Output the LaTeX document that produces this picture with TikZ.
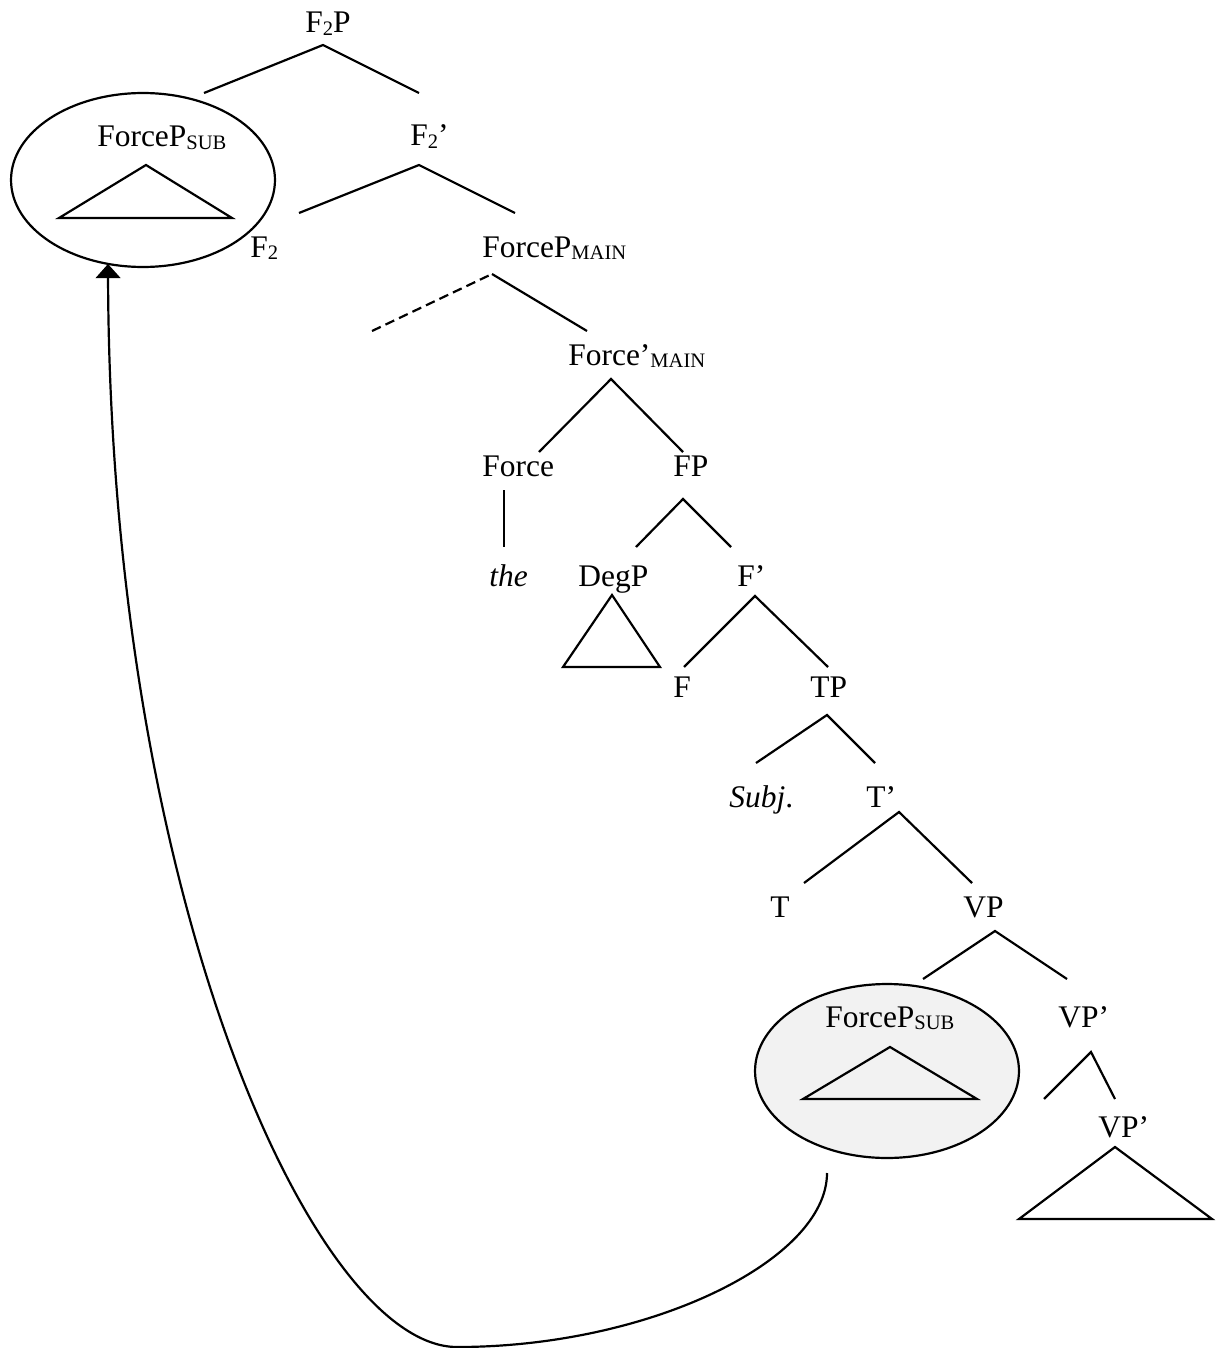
\documentclass[tikz,border=0pt]{standalone}
\usepackage{fontspec}
\setmainfont{Liberation Serif}
\usetikzlibrary{shapes.geometric,arrows.meta}
\newcommand\lsub[1]{\raisebox{-1.7pt}{\fontsize{11.7}{12}\selectfont #1}}
\tikzset{
  lbl/.style={inner sep=0pt, anchor=base west, font=\fontsize{17.9}{20}\selectfont},
  br/.style={line width=1.25pt, line cap=butt},
  tri/.style={line width=1.25pt, line join=miter},
  ell/.style={ellipse, draw, line width=1.25pt, inner sep=0pt, minimum width=5.28cm, minimum height=3.48cm},
  dsh/.style={line width=1.25pt, dash pattern=on 5.5pt off 3pt},
}
\begin{document}
\begin{tikzpicture}[x=0.02cm,y=-0.02cm]
\useasboundingbox (0,0) rectangle (1217,1348);
% ellipses
\node[ell] (ellTop) at (143,180) {};
\node[ell, fill={rgb,255:red,242;green,242;blue,242}] (ellBot) at (887,1071) {};
% labels
\node[lbl] (F2P) at (305,33) {F\lsub{2}P};
\node[lbl] (FPsubA) at (97,147) {ForceP\lsub{SUB}};
\node[lbl] (F2bar) at (410,146) {F\lsub{2}’};
\node[lbl] (F2) at (250,257) {F\lsub{2}};
\node[lbl] (FPmain) at (482,257) {ForceP\lsub{MAIN}};
\node[lbl] (Fbarmain) at (568,365) {Force’\lsub{MAIN}};
\node[lbl] (Force) at (482,476) {Force};
\node[lbl] (FP) at (673,476) {FP};
\node[lbl] (the) at (489,586) {\itshape the};
\node[lbl] (DegP) at (578,586) {DegP};
\node[lbl] (Fbar) at (737,586) {F’};
\node[lbl] (F) at (673,697) {F};
\node[lbl] (TP) at (810,697) {TP};
\node[lbl] (Subj) at (729,807) {\textit{Subj}.};
\node[lbl] (Tbar) at (866,807) {T’};
\node[lbl] (T) at (770,917) {T};
\node[lbl] (VP) at (963,917) {VP};
\node[lbl] (FPsubB) at (825,1027) {ForceP\lsub{SUB}};
\node[lbl] (VPbarA) at (1058,1027) {VP’};
\node[lbl] (VPbarB) at (1098,1137) {VP’};
% branch coordinates
\coordinate (a1) at (323,45);  \coordinate (a1l) at (204,93);  \coordinate (a1r) at (419,93);
\coordinate (a2) at (419,165); \coordinate (a2l) at (299,213); \coordinate (a2r) at (515,213);
\coordinate (a3) at (492,274); \coordinate (a3l) at (372,331); \coordinate (a3r) at (587,331);
\coordinate (a4) at (611,379); \coordinate (a4l) at (539,452); \coordinate (a4r) at (683,452);
\coordinate (f1) at (504,490); \coordinate (f2) at (504,547);
\coordinate (a5) at (683,499); \coordinate (a5l) at (636,547); \coordinate (a5r) at (731,547);
\coordinate (a6) at (755,596); \coordinate (a6l) at (684,667); \coordinate (a6r) at (828,667);
\coordinate (a7) at (827,715); \coordinate (a7l) at (756,763); \coordinate (a7r) at (875,763);
\coordinate (a8) at (899,812); \coordinate (a8l) at (804,883); \coordinate (a8r) at (972,883);
\coordinate (a9) at (995,931); \coordinate (a9l) at (923,979); \coordinate (a9r) at (1067,979);
\coordinate (a10) at (1091,1052); \coordinate (a10l) at (1044,1099); \coordinate (a10r) at (1115,1099);
% triangles
\coordinate (tA) at (146,165); \coordinate (tAl) at (59,218); \coordinate (tAr) at (232,218);
\coordinate (tB) at (612,595); \coordinate (tBl) at (563,667); \coordinate (tBr) at (660,667);
\coordinate (tC) at (890,1047); \coordinate (tCl) at (803,1099); \coordinate (tCr) at (977,1099);
\coordinate (tD) at (1115,1147); \coordinate (tDl) at (1019,1219); \coordinate (tDr) at (1212,1219);
% branches
\draw[br] (a1l) -- (a1) -- (a1r);
\draw[br] (a2l) -- (a2) -- (a2r);
\draw[dsh] (a3l) -- (a3);
\draw[br] (a3) -- (a3r);
\draw[br] (a4l) -- (a4) -- (a4r);
\draw[br] (f1) -- (f2);
\draw[br] (a5l) -- (a5) -- (a5r);
\draw[br] (a6l) -- (a6) -- (a6r);
\draw[br] (a7l) -- (a7) -- (a7r);
\draw[br] (a8l) -- (a8) -- (a8r);
\draw[br] (a9l) -- (a9) -- (a9r);
\draw[br] (a10l) -- (a10) -- (a10r);
\draw[tri] (tA) -- (tAl) -- (tAr) -- cycle;
\draw[tri] (tB) -- (tBl) -- (tBr) -- cycle;
\draw[tri] (tC) -- (tCl) -- (tCr) -- cycle;
\draw[tri] (tD) -- (tDl) -- (tDr) -- cycle;
% movement arrow
\coordinate (mvStart) at (827,1173);
\coordinate (mvLow) at (457,1347);
\coordinate (mvEnd) at (108,264);
\draw[line width=1.25pt, -{Triangle[width=14pt,length=8pt]}]
  (mvStart) .. controls (827,1260) and (650,1347) .. (mvLow)
            .. controls (315,1347) and (110,900) .. (mvEnd);
\end{tikzpicture}
\end{document}
